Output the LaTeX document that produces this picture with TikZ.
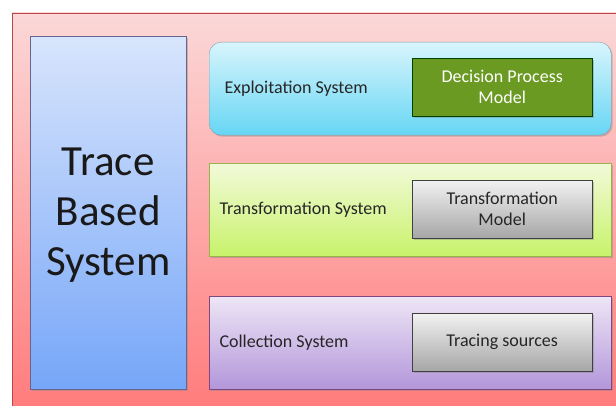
\documentclass[tikz,border=0pt]{standalone}
\usepackage{fontspec}
\setmainfont{Carlito}
\usetikzlibrary{positioning, shadows}

\definecolor{pinkTop}{HTML}{FCD8D8}
\definecolor{pinkBot}{HTML}{FF7C7C}
\definecolor{blueTop}{HTML}{D8E5FC}
\definecolor{blueBot}{HTML}{76A6F8}
\definecolor{cyanTop}{HTML}{D8F5FC}
\definecolor{cyanBot}{HTML}{66D6F4}
\definecolor{limeTop}{HTML}{F2FADA}
\definecolor{limeBot}{HTML}{C8F26A}
\definecolor{lilaTop}{HTML}{EEE6F6}
\definecolor{lilaBot}{HTML}{B396DA}
\definecolor{grayTop}{HTML}{F2F2F2}
\definecolor{grayBot}{HTML}{A6A6A6}
\definecolor{modelGreen}{HTML}{6A9A22}

\begin{document}
\begin{tikzpicture}[
    x=1pt, y=-1pt,
    font=\fontsize{18}{21}\selectfont,
    % --- styles ---
    layer/.style={draw, anchor=north west, inner sep=0pt, minimum width=402pt, minimum height=93pt,
        drop shadow={shadow xshift=1.5pt, shadow yshift=-1.5pt, opacity=0.4}},
    model/.style={draw=black!75, anchor=north west, align=center, inner sep=0pt,
        minimum width=180pt, minimum height=58pt,
        drop shadow={shadow xshift=1.5pt, shadow yshift=-1.5pt, opacity=0.4}},
    graymodel/.style={model, top color=grayTop, bottom color=grayBot, text=black!85},
    label/.style={anchor=west, text=black!85}
]

\useasboundingbox (0,0) rectangle (616,406);

% background
\fill[top color=pinkTop, bottom color=pinkBot] (12,13) rectangle (616,406);
\draw[red!45!gray] (12,406) -- (12,13) -- (616,13);

% left column
\node[draw=blue!25!black!60, anchor=north west, top color=blueTop, bottom color=blueBot,
      minimum width=156pt, minimum height=353pt, inner sep=0pt,
      drop shadow={shadow xshift=1.5pt, shadow yshift=-1.5pt, opacity=0.4}] (TBS) at (30,36) {};
\node[align=center, font=\fontsize{43}{50}\selectfont, text=black!90] (TBSText) at (TBS.center) [yshift=-2pt] {Trace\\Based\\System};

% the three layers
\node[layer, rounded corners=12pt, draw=cyan!30!gray, top color=cyanTop, bottom color=cyanBot] (Exploit) at (209,42) {};
\node[layer, draw=lime!40!gray, top color=limeTop, bottom color=limeBot] (Transform) at (209,163) {};
\node[layer, draw=violet!45!gray, top color=lilaTop, bottom color=lilaBot] (Collect) at (209,296) {};

\node[label] (ExploitText) at (221,89) {Exploitation System};
\node[label] (TransformText) at (216,210) {Transformation System};
\node[label] (CollectText) at (216,343) {Collection System};

% models inside the layers
\node[model, fill=modelGreen, draw=green!25!black, text=white] (Decision) at (412,58) {Decision Process\\Model};
\node[graymodel] (TransModel) at (412,180) {Transformation\\Model};
\node[graymodel] (Sources) at (412,313) {Tracing sources};

\end{tikzpicture}
\end{document}
